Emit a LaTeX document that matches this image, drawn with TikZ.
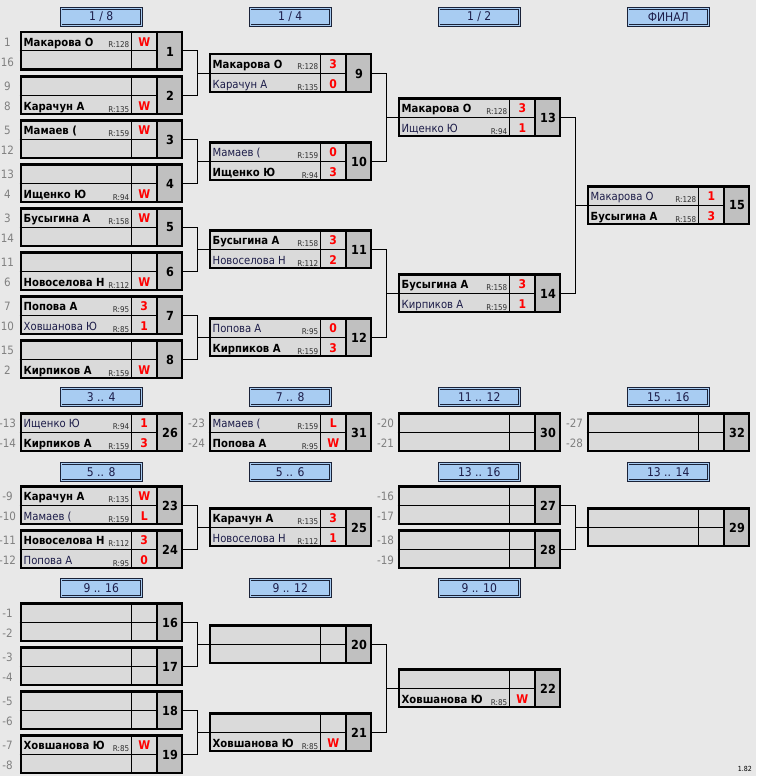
\documentclass[tikz,border=0pt]{standalone}
\usepackage{fontspec}
\setmainfont{DejaVu Sans Condensed}
\definecolor{bgcol}{HTML}{E8E8E8}
\definecolor{cellcol}{HTML}{DADADA}
\definecolor{numcol}{HTML}{C0C0C0}
\definecolor{hdrfill}{HTML}{A8CCF2}
\definecolor{hdrline}{HTML}{1A2238}
\definecolor{redtxt}{HTML}{FF0000}
\definecolor{seedcol}{HTML}{808080}
\definecolor{navy}{HTML}{1C1C48}
\definecolor{ratcol}{HTML}{303030}
\newcommand\fsz[1]{\fontsize{#1}{#1}\selectfont}
\tikzset{
  boxnode/.style={draw=black, line width=2.5pt, minimum width=161pt, minimum height=37.5pt, inner sep=0pt},
  thinln/.style={draw=black, line width=1pt},
  numtxt/.style={font=\fsz{12.5}\bfseries, text=black, inner sep=0pt},
  wname/.style={font=\fsz{11.2}\bfseries, text=black, inner sep=0pt},
  lname/.style={font=\fsz{11.2}, text=navy, inner sep=0pt},
  rattxt/.style={font=\fsz{8}, text=ratcol, inner sep=0pt},
  scoretxt/.style={font=\fsz{12}\bfseries, text=redtxt, inner sep=0pt},
  seedtxt/.style={font=\fsz{11.5}, text=seedcol, inner sep=0pt},
  hdr/.style={draw=hdrline, line width=0.8pt, double=hdrfill, double distance=1pt, fill=hdrfill,
     minimum width=80.4pt, minimum height=17.4pt, inner sep=0pt, font=\fsz{12}, text=navy},
  conn/.style={draw=black, line width=1pt},
}
\newcommand\MB[4]{%
  \xdef\mx{#2}\xdef\my{#3}\xdef\curid{#1}%
  \fill[cellcol] (#2,#3) rectangle ({#2+163.5},{#3+40});
  \fill[numcol] ({#2+137.5},#3) rectangle ({#2+163.5},{#3+40});
  \draw[thinln] ({#2+112},#3) -- ({#2+112},{#3+40});
  \draw[thinln] (#2,{#3+20}) -- ({#2+137.5},{#3+20});
  \draw[line width=2pt] ({#2+137.5},#3) -- ({#2+137.5},{#3+40});
  \node[boxnode] (m#1) at ({#2+81.75},{#3+20}) {};
  \node[numtxt, anchor=center] (n#1) at ({#2+150.5},{#3+20.5}) {#4};
}
% row, style, name, rating, score
\newcommand\PL[5]{%
  \node[#2, anchor=base west] (p\curid-#1) at ({\mx+4},{\my+20*#1+15.5}) {#3};
  \node[rattxt, anchor=base east] (r\curid-#1) at ({\mx+110},{\my+20*#1+17}) {#4};
  \node[scoretxt, anchor=base] (s\curid-#1) at ({\mx+124.75},{\my+20*#1+15.5}) {#5};
}
\newcommand\SD[2]{%
  \node[seedtxt, anchor=base] (sa\curid) at ({\mx-12},{\my+15.5}) {#1};
  \node[seedtxt, anchor=base] (sb\curid) at ({\mx-12},{\my+35.5}) {#2};
}
\newcommand\HD[4]{\node[hdr] (#1) at ({#2+81.75},{#3+10}) {#4};}
\newcommand\CN[3]{%
  \draw[conn] (m#1.east) -- ++(14.25,0) |- (m#3.west);
  \draw[conn] (m#2.east) -- ++(14.25,0) |- (m#3.west);
}
\begin{document}
\begin{tikzpicture}[x=1pt,y=-1pt]
\fill[bgcol] (0,0) rectangle (756,776);
\useasboundingbox (0,0) rectangle (756,776);
% headers
\HD{h1}{19.5}{7}{1 / 8}
\HD{h2}{208.5}{7}{1 / 4}
\HD{h3}{397.5}{7}{1 / 2}
\HD{h4}{586.5}{7}{ФИНАЛ}
\HD{h5}{19.5}{387}{3 .. 4}
\HD{h6}{208.5}{387}{7 .. 8}
\HD{h7}{397.5}{387}{11 .. 12}
\HD{h8}{586.5}{387}{15 .. 16}
\HD{h9}{19.5}{462}{5 .. 8}
\HD{h10}{208.5}{462}{5 .. 6}
\HD{h11}{397.5}{462}{13 .. 16}
\HD{h12}{586.5}{462}{13 .. 14}
\HD{h13}{19.5}{578}{9 .. 16}
\HD{h14}{208.5}{578}{9 .. 12}
\HD{h15}{397.5}{578}{9 .. 10}
% ---- section 1, round 1
\MB{1}{19.5}{31}{1}\SD{1}{16}
\PL{0}{wname}{Макарова О}{R:128}{W}
\MB{2}{19.5}{75}{2}\SD{9}{8}
\PL{1}{wname}{Карачун А}{R:135}{W}
\MB{3}{19.5}{119}{3}\SD{5}{12}
\PL{0}{wname}{Мамаев (}{R:159}{W}
\MB{4}{19.5}{163}{4}\SD{13}{4}
\PL{1}{wname}{Ищенко Ю}{R:94}{W}
\MB{5}{19.5}{207}{5}\SD{3}{14}
\PL{0}{wname}{Бусыгина А}{R:158}{W}
\MB{6}{19.5}{251}{6}\SD{11}{6}
\PL{1}{wname}{Новоселова Н}{R:112}{W}
\MB{7}{19.5}{295}{7}\SD{7}{10}
\PL{0}{wname}{Попова А}{R:95}{3}
\PL{1}{lname}{Ховшанова Ю}{R:85}{1}
\MB{8}{19.5}{339}{8}\SD{15}{2}
\PL{1}{wname}{Кирпиков А}{R:159}{W}
% round 2
\MB{9}{208.5}{53}{9}
\PL{0}{wname}{Макарова О}{R:128}{3}
\PL{1}{lname}{Карачун А}{R:135}{0}
\MB{10}{208.5}{141}{10}
\PL{0}{lname}{Мамаев (}{R:159}{0}
\PL{1}{wname}{Ищенко Ю}{R:94}{3}
\MB{11}{208.5}{229}{11}
\PL{0}{wname}{Бусыгина А}{R:158}{3}
\PL{1}{lname}{Новоселова Н}{R:112}{2}
\MB{12}{208.5}{317}{12}
\PL{0}{lname}{Попова А}{R:95}{0}
\PL{1}{wname}{Кирпиков А}{R:159}{3}
% round 3
\MB{13}{397.5}{97}{13}
\PL{0}{wname}{Макарова О}{R:128}{3}
\PL{1}{lname}{Ищенко Ю}{R:94}{1}
\MB{14}{397.5}{273}{14}
\PL{0}{wname}{Бусыгина А}{R:158}{3}
\PL{1}{lname}{Кирпиков А}{R:159}{1}
% final
\MB{15}{586.5}{185}{15}
\PL{0}{lname}{Макарова О}{R:128}{1}
\PL{1}{wname}{Бусыгина А}{R:158}{3}
\CN{1}{2}{9}\CN{3}{4}{10}\CN{5}{6}{11}\CN{7}{8}{12}
\CN{9}{10}{13}\CN{11}{12}{14}\CN{13}{14}{15}
% ---- section 2
\MB{26}{19.5}{412}{26}\SD{-13}{-14}
\PL{0}{lname}{Ищенко Ю}{R:94}{1}
\PL{1}{wname}{Кирпиков А}{R:159}{3}
\MB{31}{208.5}{412}{31}\SD{-23}{-24}
\PL{0}{lname}{Мамаев (}{R:159}{L}
\PL{1}{wname}{Попова А}{R:95}{W}
\MB{30}{397.5}{412}{30}\SD{-20}{-21}
\MB{32}{586.5}{412}{32}\SD{-27}{-28}
% ---- section 3
\MB{23}{19.5}{485}{23}\SD{-9}{-10}
\PL{0}{wname}{Карачун А}{R:135}{W}
\PL{1}{lname}{Мамаев (}{R:159}{L}
\MB{24}{19.5}{529}{24}\SD{-11}{-12}
\PL{0}{wname}{Новоселова Н}{R:112}{3}
\PL{1}{lname}{Попова А}{R:95}{0}
\MB{25}{208.5}{507}{25}
\PL{0}{wname}{Карачун А}{R:135}{3}
\PL{1}{lname}{Новоселова Н}{R:112}{1}
\MB{27}{397.5}{485}{27}\SD{-16}{-17}
\MB{28}{397.5}{529}{28}\SD{-18}{-19}
\MB{29}{586.5}{507}{29}
\CN{23}{24}{25}\CN{27}{28}{29}
% ---- section 4
\MB{16}{19.5}{602}{16}\SD{-1}{-2}
\MB{17}{19.5}{646}{17}\SD{-3}{-4}
\MB{18}{19.5}{690}{18}\SD{-5}{-6}
\MB{19}{19.5}{734}{19}\SD{-7}{-8}
\PL{0}{wname}{Ховшанова Ю}{R:85}{W}
\MB{20}{208.5}{624}{20}
\MB{21}{208.5}{712}{21}
\PL{1}{wname}{Ховшанова Ю}{R:85}{W}
\MB{22}{397.5}{668}{22}
\PL{1}{wname}{Ховшанова Ю}{R:85}{W}
\CN{16}{17}{20}\CN{18}{19}{21}\CN{20}{21}{22}
\node[font=\fsz{7}, text=black, anchor=base east, inner sep=0pt] (ver) at (752,771) {1.82};
\end{tikzpicture}
\end{document}
